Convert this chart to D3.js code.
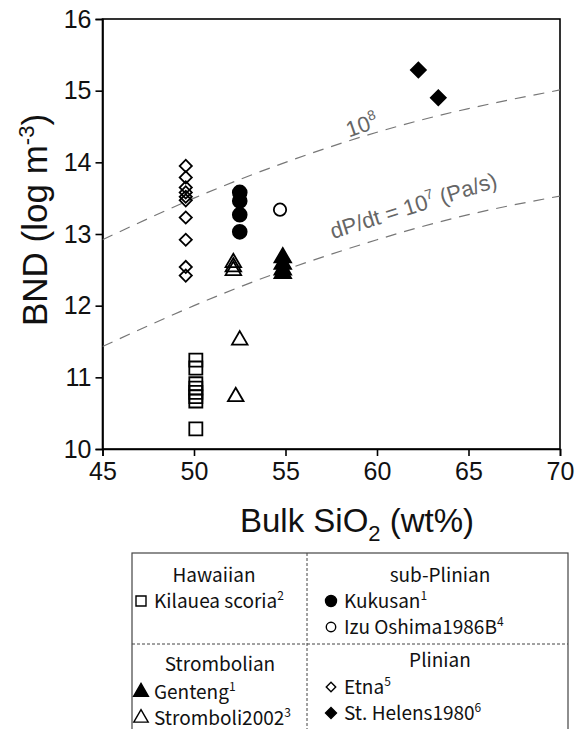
<!DOCTYPE html>
<html>
<head>
<meta charset="utf-8">
<script src="https://cdn.jsdelivr.net/npm/d3@7"></script>
<style>
  body { margin: 0; background: #fff; }
  svg { display: block; }
</style>
</head>
<body>
<div id="grafica"></div>
<script>
// values (SiO2 wt%, BND log m^-3)
var xTicks = [45, 50, 55, 60, 65, 70];
var yTicks = [10, 11, 12, 13, 14, 15, 16];

var kilaueaSiO2 = [50.1, 50.1, 50.1, 50.1, 50.1, 50.1, 50.1, 50.1];
var kilaueaBND  = [11.24, 11.13, 10.91, 10.85, 10.79, 10.73, 10.67, 10.28];

var kukusanSiO2 = [52.5, 52.5, 52.5, 52.5];
var kukusanBND  = [13.58, 13.46, 13.27, 13.03];

var izuSiO2 = [54.7];
var izuBND  = [13.34];

var gentengSiO2 = [54.85, 54.85, 54.85, 54.85];
var gentengBND  = [12.67, 12.58, 12.5, 12.45];

var stromboliSiO2 = [52.15, 52.15, 52.15, 52.5, 52.28];
var stromboliBND  = [12.6, 12.54, 12.49, 11.52, 10.73];

var etnaSiO2 = [49.55, 49.55, 49.55, 49.55, 49.55, 49.55, 49.55, 49.55, 49.55, 49.55];
var etnaBND  = [13.95, 13.79, 13.65, 13.58, 13.52, 13.47, 13.23, 12.92, 12.54, 12.42];

var helensSiO2 = [62.26, 63.35];
var helensBND  = [15.29, 14.9];

// dashed iso-lines of decompression rate
var curveSiO2   = [45, 50, 55, 60, 65, 70];
var curve1e8BND = [12.92, 13.5, 14.0, 14.42, 14.75, 15.01];
var curve1e7BND = [11.43, 12.0, 12.5, 12.92, 13.27, 13.53];

// set the dimensions and margins of the graph
var margin = {top: 19, right: 21, bottom: 280, left: 102.5},
    width = 581 - margin.left - margin.right,
    height = 729 - margin.top - margin.bottom;

var svg = d3.select("#grafica")
  .append("svg")
  .attr("width", 581)
  .attr("height", 729);

var g = svg.append("g")
  .attr("transform", `translate(${margin.left},${margin.top})`);

var x = d3.scaleLinear().domain([45, 70]).range([0, width]);
var y = d3.scaleLinear().domain([10, 16]).range([height, 0]);

var axisFont = "'Liberation Sans', Arial, sans-serif";

// frame
g.append("rect")
  .attr("width", width)
  .attr("height", height)
  .attr("fill", "none")
  .attr("stroke", "#000")
  .attr("stroke-width", 1.6);

// X axis
var xAxis = g.append("g")
  .attr("transform", `translate(0,${height})`)
  .call(d3.axisBottom(x).tickValues(xTicks).tickFormat(d3.format("d")).tickSize(7).tickPadding(6));
// Y axis
var yAxis = g.append("g")
  .call(d3.axisLeft(y).tickValues(yTicks).tickFormat(d3.format("d")).tickSize(7).tickPadding(4));

[xAxis, yAxis].forEach(function(a) {
  a.select(".domain").attr("stroke-width", 1.6);
  a.selectAll(".tick line").attr("stroke-width", 1.6);
  a.selectAll(".tick text")
    .style("font-family", axisFont)
    .style("font-size", "25px")
    .attr("fill", "#111");
});

// axis titles
var xt = svg.append("text")
  .attr("x", 357)
  .attr("y", 532)
  .style("font-family", axisFont)
  .style("font-size", "33px")
  .style("text-anchor", "middle")
  .attr("fill", "#111");
xt.append("tspan").text("Bulk SiO");
xt.append("tspan").attr("dy", 9).style("font-size", "22px").text("2");
xt.append("tspan").attr("dy", -9).text(" (wt%)");

var yt = svg.append("text")
  .attr("transform", "rotate(-90)")
  .attr("x", -220)
  .attr("y", 47)
  .style("font-family", axisFont)
  .style("font-size", "35px")
  .style("text-anchor", "middle")
  .attr("fill", "#111");
yt.append("tspan").text("BND (log m");
yt.append("tspan").attr("dy", -13).style("font-size", "22px").text("-3");
yt.append("tspan").attr("dy", 13).text(")");

// dashed curves
var clip = g.append("clipPath").attr("id", "plotclip")
  .append("rect").attr("width", width).attr("height", height);

var line = d3.line()
  .x(function(d) { return x(d[0]); })
  .y(function(d) { return y(d[1]); })
  .curve(d3.curveNatural);

[curve1e8BND, curve1e7BND].forEach(function(vals) {
  g.append("path")
    .datum(d3.zip(curveSiO2, vals))
    .attr("clip-path", "url(#plotclip)")
    .attr("fill", "none")
    .attr("stroke", "#777")
    .attr("stroke-width", 1.2)
    .attr("stroke-dasharray", "11,8")
    .attr("d", line);
});

// curve labels
var lab8 = g.append("text")
  .attr("transform", `translate(${x(59.3)},${y(14.42)}) rotate(-19)`)
  .style("font-family", axisFont)
  .style("font-size", "22px")
  .style("text-anchor", "middle")
  .attr("fill", "#666");
lab8.append("tspan").text("10");
lab8.append("tspan").attr("dy", -9).style("font-size", "14px").text("8");

var lab7 = g.append("text")
  .attr("transform", `translate(${x(57.6)},${y(12.93)}) rotate(-17.5)`)
  .style("font-family", axisFont)
  .style("font-size", "22px")
  .attr("fill", "#666");
lab7.append("tspan").text("dP/dt = 10");
lab7.append("tspan").attr("dy", -9).style("font-size", "14px").text("7");
lab7.append("tspan").attr("dy", 9).text(" (Pa/s)");

// symbols
function shape(type, size) {
  return d3.symbol().type(type).size(size)();
}
var series = [
  {sx: kilaueaSiO2, sy: kilaueaBND, type: d3.symbolSquare, size: 170, fill: "none", rot: 0},
  {sx: etnaSiO2, sy: etnaBND, type: d3.symbolSquare, size: 74, fill: "none", rot: 45},
  {sx: stromboliSiO2, sy: stromboliBND, type: d3.symbolTriangle, size: 105, fill: "none", rot: 0},
  {sx: kukusanSiO2, sy: kukusanBND, type: d3.symbolCircle, size: 150, fill: "#000", rot: 0},
  {sx: izuSiO2, sy: izuBND, type: d3.symbolCircle, size: 120, fill: "none", rot: 0},
  {sx: gentengSiO2, sy: gentengBND, type: d3.symbolTriangle, size: 120, fill: "#000", rot: 0},
  {sx: helensSiO2, sy: helensBND, type: d3.symbolSquare, size: 112, fill: "#000", rot: 45}
];

series.forEach(function(s) {
  g.append("g").selectAll("path")
    .data(d3.zip(s.sx, s.sy))
    .join("path")
      .attr("transform", function(d) {
        return `translate(${x(d[0])},${y(d[1])}) rotate(${s.rot})`;
      })
      .attr("d", shape(s.type, s.size))
      .attr("fill", s.fill)
      .attr("stroke", "#000")
      .attr("stroke-width", 1.8);
});

// legend table
var legendFont = "'Noto Sans CJK JP', 'Noto Sans', sans-serif";
var leg = svg.append("g");
leg.append("rect")
  .attr("x", 132).attr("y", 553)
  .attr("width", 436).attr("height", 190)
  .attr("fill", "none").attr("stroke", "#444").attr("stroke-width", 1.2);
leg.append("line")
  .attr("x1", 307).attr("x2", 307).attr("y1", 553).attr("y2", 729)
  .attr("stroke", "#444").attr("stroke-dasharray", "3,2");
leg.append("line")
  .attr("x1", 132).attr("x2", 568).attr("y1", 644).attr("y2", 644)
  .attr("stroke", "#444").attr("stroke-dasharray", "3,2");

var legendTitles = ["Hawaiian", "sub-Plinian", "Strombolian", "Plinian"];
var legendNames  = ["Kilauea scoria", "Kukusan", "Izu Oshima1986B", "Genteng", "Stromboli2002", "Etna", "St. Helens1980"];
var legendRefs   = ["2", "1", "4", "1", "3", "5", "6"];

var titlePos = [[214, 582], [440, 582], [220, 671], [440, 667]];
legendTitles.forEach(function(t, i) {
  leg.append("text")
    .attr("x", titlePos[i][0]).attr("y", titlePos[i][1])
    .style("font-family", legendFont).style("font-size", "19px")
    .style("text-anchor", "middle").attr("fill", "#111")
    .text(t);
});

var itemPos = [[141, 608], [331, 608], [331, 634], [141, 699], [141, 725], [331, 694], [331, 720]];
var itemMarks = [
  {type: d3.symbolSquare, size: 100, fill: "none", rot: 0},
  {type: d3.symbolCircle, size: 95, fill: "#000", rot: 0},
  {type: d3.symbolCircle, size: 70, fill: "none", rot: 0},
  {type: d3.symbolTriangle, size: 95, fill: "#000", rot: 0},
  {type: d3.symbolTriangle, size: 90, fill: "none", rot: 0},
  {type: d3.symbolSquare, size: 45, fill: "none", rot: 45},
  {type: d3.symbolSquare, size: 60, fill: "#000", rot: 45}
];
legendNames.forEach(function(n, i) {
  var p = itemPos[i], m = itemMarks[i];
  leg.append("path")
    .attr("transform", `translate(${p[0]},${p[1] - 7}) rotate(${m.rot})`)
    .attr("d", shape(m.type, m.size))
    .attr("fill", m.fill).attr("stroke", "#000").attr("stroke-width", 1.4);
  var t = leg.append("text")
    .attr("x", p[0] + 13).attr("y", p[1])
    .style("font-family", legendFont).style("font-size", "19px")
    .attr("fill", "#111");
  t.append("tspan").text(n);
  t.append("tspan").attr("dy", -8).style("font-size", "12px").text(legendRefs[i]);
});
</script>
</body>
</html>
